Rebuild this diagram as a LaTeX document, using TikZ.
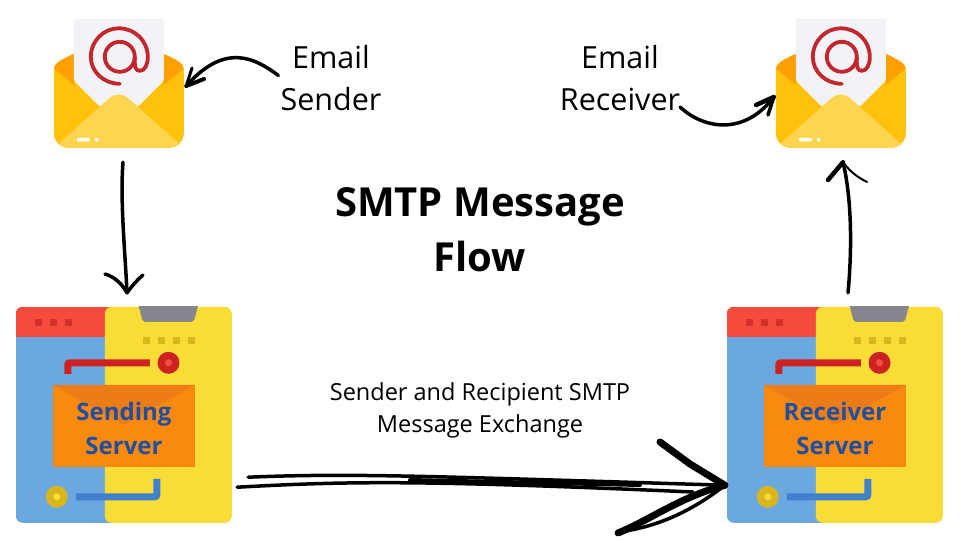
\documentclass[tikz,border=0pt]{standalone}
\usepackage{fontspec}
\setmainfont{Open Sans}
\usetikzlibrary{calc}
\definecolor{MailSide}{HTML}{FFC10A}
\definecolor{MailBack}{HTML}{FFA000}
\definecolor{MailFront}{HTML}{FFD54F}
\definecolor{Sheet}{HTML}{F2F3F7}
\definecolor{AtRed}{HTML}{C4262E}
\definecolor{PanelBlue}{HTML}{6CA8E0}
\definecolor{PanelYellow}{HTML}{F9DC35}
\definecolor{BarRed}{HTML}{F44B3C}
\definecolor{DotRed}{HTML}{D32F2F}
\definecolor{DotGold}{HTML}{D9B71C}
\definecolor{Notch}{HTML}{85868E}
\definecolor{WireRed}{HTML}{CC2222}
\definecolor{WireBlue}{HTML}{4080CC}
\definecolor{EnvOrange}{HTML}{F9890F}
\definecolor{EnvFlap}{HTML}{EB7C17}
\definecolor{ServerText}{HTML}{1E4FA0}
\newcommand{\mailoutline}{(0,52) .. controls (0,44) and (6,42) .. (20,35) -- (110,35) .. controls (124,42) and (130,44) .. (130,52) -- (130,114) .. controls (130,123) and (123,129) .. (115,129) -- (15,129) .. controls (7,129) and (0,123) .. (0,114) -- cycle}
\tikzset{
 mailicon/.pic={
  \fill[MailSide] \mailoutline;
  \begin{scope}
   \clip \mailoutline;
   \fill[MailBack] (-2,48)--(20,66)--(20,20)--(-2,20)--cycle;
   \fill[MailBack] (132,48)--(110,66)--(110,20)--(132,20)--cycle;
  \end{scope}
  \fill[Sheet,rounded corners=2pt] (20,62)--(20,0)--(110,0)--(110,62)--(84,88)--(46,88)--cycle;
  \begin{scope}
   \clip \mailoutline;
   \fill[MailFront,rounded corners=12pt] (5,124.6)--(65,71)--(125,124.6)--(160,160)--(-30,160)--cycle;
  \end{scope}
  \fill[white,rounded corners=1pt] (23,119) rectangle (36,122.5);
  \fill[white,rounded corners=1pt] (41,119) rectangle (44.5,122.5);
  % the at sign, one stroke
  \draw[AtRed,line width=3.8pt,line cap=round] (66,65) .. controls (50,65) and (37,53) .. (37,38) .. controls (37,22) and (50,9.5) .. (65,9.5) .. controls (81,9.5) and (94,22) .. (94,38) .. controls (94,46) and (91,52) .. (86,52) .. controls (82,52) and (81,48) .. (81,44) -- (81,38);
  \draw[AtRed,line width=3.8pt] (66,38) circle[radius=15pt];
 },
 servericon/.pic={
  \begin{scope}
   \clip[rounded corners=7pt] (0,0) rectangle (216,216);
   \fill[PanelBlue] (0,0) rectangle (110,216);
   \fill[BarRed] (0,0) rectangle (110,30);
  \end{scope}
  \fill[PanelYellow,rounded corners=7pt] (89,0) rectangle (216,216);
  \begin{scope}
   \clip (100,0) rectangle (200,20);
   \fill[Notch,rounded corners=2pt] (122,-4)--(127,15)--(178,15)--(183,-4)--cycle;
  \end{scope}
  \foreach \x in {19,34,49} \fill[DotRed] (\x,12) rectangle ++(7,7);
  \foreach \x in {127,142,157,172} \fill[DotGold] (\x,30) rectangle ++(7,7);
  \draw[WireRed,line width=7pt,rounded corners=2pt] (52,67)--(52,56)--(134,56);
  \fill[WireRed] (152.7,56) circle[radius=11pt];
  \fill[BarRed] (152.7,56) circle[radius=3.5pt];
  \fill[EnvOrange] (37,78) rectangle (179,160);
  \fill[EnvFlap] (37,78)--(179,78)--(108,118)--cycle;
  \draw[WireBlue,line width=7pt,rounded corners=2pt] (60,190)--(141,190)--(141,172);
  \fill[DotGold] (41,190) circle[radius=11pt];
  \fill[PanelYellow] (41,190) circle[radius=3.5pt];
 }
}
\begin{document}
\begin{tikzpicture}[x=1pt,y=-1pt,
 mbox/.style={inner sep=0pt,minimum width=130pt,minimum height=129pt},
 sbox/.style={inner sep=0pt,minimum width=216pt,minimum height=216pt},
 lbl/.style={inner sep=0pt,align=center,font=\fontsize{30.5}{42}\selectfont},
 srvlbl/.style={inner sep=0pt,align=center,text=ServerText,font=\bfseries\fontsize{24}{34}\selectfont},
 a/.style={draw=black,line width=3.5pt,line cap=round,line join=round},
 b/.style={draw=black,line width=7pt,line cap=round,line join=round}
]
\useasboundingbox (0,0) rectangle (960,540);
\node[mbox] (mailtx) at (119,83.5) {};
\node[mbox] (mailrx) at (841,83.5) {};
\node[sbox] (srvtx) at (124,415) {};
\node[sbox] (srvrx) at (835,415) {};
\pic at (mailtx.north west) {mailicon};
\pic at (mailrx.north west) {mailicon};
\pic at (srvtx.north west) {servericon};
\pic at (srvrx.north west) {servericon};
\node[srvlbl] (srvtxlbl) at (124,428) {Sending\\Server};
\node[srvlbl] (srvrxlbl) at (835,428) {Receiver\\Server};
\node[lbl] (sender) at (331,78.5) {Email\\Sender};
\node[lbl] (receiver) at (620,78) {Email\\Receiver};
\node[inner sep=0pt,align=center,font=\bfseries\fontsize{40}{55}\selectfont] (title) at (480,230) {SMTP Message\\Flow};
\node[inner sep=0pt,align=center,font=\fontsize{23.5}{32}\selectfont] (exch) at (480,410) {Sender and Recipient SMTP\\Message Exchange};
% label arrows
\coordinate (tipa) at ($(mailtx.east)+(2,2.5)$);
\draw[a] ($(sender.west)+(-2,-3)$) .. controls (255,58) and (225,42) .. (tipa);
\draw[a,line width=3pt] (tipa)--(192,68);
\draw[a,line width=4pt] (tipa)--(204,79);
\coordinate (startb) at (680,107);
\coordinate (tipb) at ($(mailrx.west)+(-2,13.5)$);
\draw[a] (startb) .. controls (705,130) and (745,135) .. (tipb);
\draw[a,line width=4.5pt] (tipb)--(756,105);
\draw[a] (tipb)--(768,115);
% down and up
\coordinate (tipc) at ($(srvtx.north)+(3,-14)$);
\draw[a] ($(mailtx.south)+(4,14)$) .. controls (120,200) and (125,250) .. (tipc);
\draw[a] (105,274) .. controls (115,277) and (122,284) .. (tipc);
\draw[a] (143,275) .. controls (137,280) and (132,286) .. (tipc);
\coordinate (tipd) at ($(mailrx.south)+(2,14)$);
\draw[a] ($(srvrx.north)+(13,-14)$) .. controls (852,250) and (852,200) .. (tipd);
\draw[a,line width=4.5pt] (828,180)--(tipd);
\draw[a,line width=2pt] (867,182) .. controls (855,176) and (849,170) .. (tipd);
% exchange arrow
\coordinate (tipe) at ($(srvrx.south west)+(-2,-38)$);
\draw[a] ($(srvtx.south east)+(16,-46)$) .. controls (350,473) and (420,476) .. (tipe);
\draw[a] ($(srvtx.south east)+(5,-36)$) .. controls (350,481) and (420,480) .. (693,492);
\draw[a,line width=4pt] (410,480)--(640,485);
\draw[b] (660,442)--(690,464)--(tipe);
\draw[b] (618,533) .. controls (650,520) and (680,497) .. (tipe);
\draw[a] (625,531) .. controls (665,525) and (700,505) .. (tipe);
\end{tikzpicture}
\end{document}
